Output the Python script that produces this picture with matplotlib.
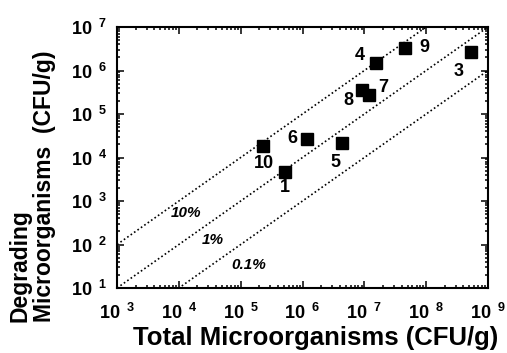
import numpy as np
import matplotlib
matplotlib.use("Agg")
import matplotlib.pyplot as plt
from matplotlib.ticker import LogLocator, FuncFormatter

plt.rcParams["font.family"] = ["Liberation Sans", "DejaVu Sans"]
plt.rcParams["font.weight"] = "bold"
plt.rcParams["mathtext.fontset"] = "custom"
plt.rcParams["mathtext.rm"] = "Liberation Sans:bold"
plt.rcParams["mathtext.bf"] = "Liberation Sans:bold"
plt.rcParams["mathtext.it"] = "Liberation Sans:bold:italic"

# sample number, total and degrading counts (CFU/g)
sample_ids = ["1", "3", "4", "5", "6", "7", "8", "9", "10"]
total_cfu = [5.2e5, 5.4e8, 1.55e7, 4.4e6, 1.2e6, 1.2e7, 9.1e6, 4.6e7, 2.3e5]
degrading_cfu = [4.6e3, 2.7e6, 1.5e6, 2.1e4, 2.7e4, 2.8e5, 3.5e5, 3.3e6, 1.8e4]

# reference fractions of degraders
fractions = [0.1, 0.01, 0.001]
fraction_labels = ["10%", "1%", "0.1%"]

# label placement (offsets in points, line label anchors in data units)
label_offsets = {
    "1": (0, -11), "3": (-9, -14), "4": (-12, 5), "5": (-5, -14),
    "6": (-11, 0), "7": (10, 5), "8": (-10, -7), "9": (14, 0), "10": (1, -12),
}
frac_label_pos = [(1.3e4, 5.2e2), (3.6e4, 1.3e2), (1.35e5, 34)]

fig = plt.figure(figsize=(5.07, 3.53), dpi=100)
ax = fig.add_axes([0.2308, 0.1841, 0.7317, 0.7394])
ax.set_xscale("log")
ax.set_yscale("log")
ax.set_xlim(1e3, 1e9)
ax.set_ylim(1e1, 1e7)

xline = np.logspace(3, 9, 50)
for frac in fractions:
    ax.plot(xline, xline * frac, color="black", lw=1.2, ls=(0, (1, 1.5)))

for text, (x, y) in zip(fraction_labels, frac_label_pos):
    ax.text(x, y, text, fontsize=11, fontstyle="italic", fontweight="bold",
            ha="center", va="center")

ax.plot(total_cfu, degrading_cfu, ls="none", marker="s", ms=8.3,
        color="black")

for sid, x, y in zip(sample_ids, total_cfu, degrading_cfu):
    ax.annotate(sid, (x, y), xytext=label_offsets[sid], textcoords="offset points",
                ha="center", va="center", fontsize=13, fontweight="bold")


def power_label(val, pos):
    exp = int(round(np.log10(val)))
    return r"$\mathbf{10}^{\ \ \mathbf{%d}}$" % exp


for axis in (ax.xaxis, ax.yaxis):
    axis.set_major_locator(LogLocator(base=10, numticks=10))
    axis.set_minor_locator(LogLocator(base=10, subs=np.arange(2, 10), numticks=10))
    axis.set_major_formatter(FuncFormatter(power_label))

ax.tick_params(which="both", direction="in", top=True, right=True, width=1.1)
ax.tick_params(which="major", length=5, labelsize=13)
ax.tick_params(axis="x", which="major", pad=11)
ax.tick_params(axis="y", which="major", pad=7)
ax.tick_params(which="minor", length=2.5)
for spine in ax.spines.values():
    spine.set_linewidth(1.5)

ax.set_xlabel("Total Microorganisms (CFU/g)", fontsize=18.5, fontweight="bold")
ax.xaxis.set_label_coords(0.536, -0.145)
fig.text(0.063, 0.088, "Degrading\nMicroorganisms  (CFU/g)", rotation=90,
         fontsize=16.5, fontweight="bold", ha="center", va="bottom",
         multialignment="left", linespacing=1.1)

fig.savefig("out.png", dpi=100)
